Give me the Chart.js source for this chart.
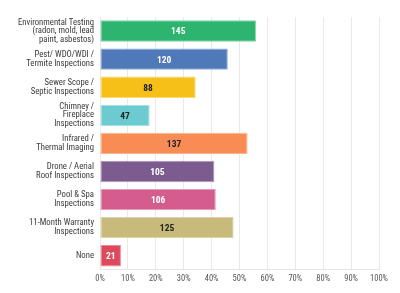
<!DOCTYPE html>
<html lang="en">
<head>
    <meta charset="UTF-8">
    <title>Inspection Services</title>
    <script src="https://cdn.jsdelivr.net/npm/chart.js"></script>
    <style>
        html, body { margin: 0; padding: 0; background: #fff; }
        #wrap { width: 400px; height: 293px; }
    </style>
</head>
<body>
    <div id="wrap"><canvas id="servicesChart"></canvas></div>
    <script>
        const categories = [
            ['Environmental Testing', '(radon, mold, lead', 'paint, asbestos)'],
            ['Pest/ WDO/WDI /', 'Termite Inspections'],
            ['Sewer Scope /', 'Septic Inspections'],
            ['Chimney /', 'Fireplace', 'Inspections'],
            ['Infrared /', 'Thermal Imaging'],
            ['Drone / Aerial', 'Roof Inspections'],
            ['Pool & Spa', 'Inspections'],
            ['11-Month Warranty', 'Inspections'],
            ['None']
        ];
        const percents = [55.9, 45.8, 34.3, 17.8, 52.9, 41.0, 41.5, 47.9, 7.5];
        const counts = [145, 120, 88, 47, 137, 105, 106, 125, 21];
        const barColors = ['#2db56f', '#4f79b9', '#f6c019', '#6ccbd0', '#f98c55', '#7c5b8f', '#d55d8e', '#c7ba7a', '#dc4a5c'];
        const borderColors = ['#7fd3a5', '#8ea8d4', '#fad96e', '#a6e0e3', '#fbb58f', '#ab95b8', '#e69ab9', '#ddd3a9', '#ea8c98'];
        const labelColors = ['#fff', '#fff', '#222', '#222', '#222', '#fff', '#fff', '#222', '#fff'];

        const fontFamily = '"Roboto Condensed", "Liberation Sans Narrow", "DejaVu Sans Condensed", sans-serif';

        // draws the count in the middle of every bar
        const countLabels = {
            id: 'countLabels',
            afterDatasetsDraw(chart) {
                const ctx = chart.ctx;
                const meta = chart.getDatasetMeta(0);
                ctx.save();
                ctx.font = 'bold 9.5px ' + fontFamily;
                ctx.textAlign = 'center';
                ctx.textBaseline = 'middle';
                meta.data.forEach((bar, i) => {
                    const x = (bar.base + bar.x) / 2;
                    ctx.fillStyle = labelColors[i];
                    ctx.fillText(counts[i], x, bar.y + 1);
                });
                ctx.restore();
            }
        };

        window.onload = function() {
            const ctx = document.getElementById('servicesChart').getContext('2d');
            new Chart(ctx, {
                type: 'bar',
                data: {
                    labels: categories,
                    datasets: [{
                        data: percents,
                        backgroundColor: barColors,
                        borderColor: borderColors,
                        borderWidth: 1,
                        borderSkipped: false,
                        categoryPercentage: 1,
                        barPercentage: 0.76
                    }]
                },
                plugins: [countLabels],
                options: {
                    indexAxis: 'y',
                    responsive: true,
                    maintainAspectRatio: false,
                    animation: false,
                    layout: { padding: { top: 17, right: 21, bottom: 5, left: 0 } },
                    plugins: {
                        legend: { display: false },
                        tooltip: { enabled: false }
                    },
                    scales: {
                        x: {
                            min: 0,
                            max: 100,
                            ticks: {
                                stepSize: 10,
                                padding: 4,
                                color: '#555',
                                font: { family: fontFamily, size: 8.5 },
                                callback: v => v + '%'
                            },
                            grid: { color: '#e9e9e9', drawTicks: false },
                            border: { color: '#e4e4e4' }
                        },
                        y: {
                            afterFit(scale) { scale.width = 100; },
                            ticks: {
                                autoSkip: false,
                                padding: 6,
                                color: '#3a3a3a',
                                font: { family: fontFamily, size: 8.7, lineHeight: 1.0 }
                            },
                            grid: { display: false, drawTicks: false },
                            border: { display: false }
                        }
                    }
                }
            });
        };
    </script>
</body>
</html>
